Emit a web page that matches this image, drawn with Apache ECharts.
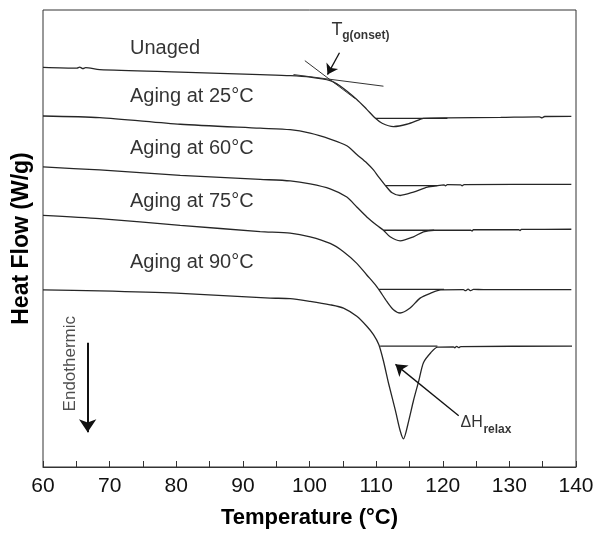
<!DOCTYPE html>
<html>
<head>
<meta charset="utf-8">
<script src="https://cdn.jsdelivr.net/npm/echarts@6/dist/echarts.min.js"></script>
<style>
  html, body { margin: 0; padding: 0; background: #fff; }
  #chart { width: 597px; height: 534px; }
</style>
</head>
<body>
<div id="chart"></div>
<script>
// DSC heat-flow traces: [temperature (°C), heat flow (arbitrary, offset per trace)]
const unaged = [
  [60.0, 40.23], [65.1, 40.15], [65.5, 40.25], [66.0, 40.1], [66.4, 40.2], [68.5, 40.0],
  [80.6, 39.75], [92.6, 39.5], [97.1, 39.4], [100.1, 39.25], [103.1, 38.9], [104.6, 38.35],
  [107.1, 37.0], [108.6, 36.0], [109.9, 35.1], [110.9, 34.6], [112.6, 34.27], [114.6, 34.5],
  [116.6, 35.0], [117.1, 35.1], [120.7, 35.15], [128.7, 35.2], [134.5, 35.25], [134.9, 35.15],
  [135.3, 35.28], [139.3, 35.3]
];
const aged25 = [
  [60.0, 35.33], [68.5, 35.17], [80.6, 34.5], [92.6, 34.1], [97.1, 33.95], [100.1, 33.6],
  [103.1, 33.0], [105.6, 32.33], [107.1, 31.45], [108.6, 30.6], [109.6, 29.9], [110.4, 29.17],
  [111.4, 28.33], [112.4, 27.6], [113.6, 27.33], [115.6, 27.67], [117.7, 28.17], [119.2, 28.33],
  [120.2, 28.4], [120.4, 28.3], [120.7, 28.42], [122.7, 28.4], [122.9, 28.3], [123.2, 28.42],
  [139.3, 28.45]
];
const aged60 = [
  [60.0, 30.2], [68.5, 29.9], [80.6, 29.35], [92.6, 28.95], [97.1, 28.8], [100.1, 28.5],
  [103.1, 28.0], [105.6, 27.17], [107.1, 26.17], [108.6, 25.17], [110.1, 24.33], [111.1, 23.83],
  [112.1, 23.17], [113.6, 22.77], [115.6, 23.17], [117.1, 23.67], [118.7, 23.83], [124.2, 23.85],
  [124.4, 23.75], [124.6, 23.88], [131.4, 23.9], [131.6, 23.8], [131.8, 23.92], [139.3, 23.93]
];
const aged75 = [
  [60.0, 25.33], [68.5, 25.0], [80.6, 24.33], [92.6, 23.7], [97.1, 23.55], [100.1, 23.17],
  [103.1, 22.5], [105.1, 21.67], [107.1, 20.5], [108.6, 19.33], [109.9, 18.33], [110.6, 17.67],
  [111.6, 16.67], [112.6, 15.83], [113.6, 15.5], [115.1, 16.0], [116.6, 17.0], [118.2, 17.5],
  [119.7, 17.83], [123.1, 17.85], [123.4, 17.75], [123.8, 17.9], [124.2, 17.75], [124.6, 17.88],
  [126.1, 17.85], [139.3, 17.85]
];
const aged90 = [
  [60.0, 17.83], [68.5, 17.73], [80.0, 17.5], [94.1, 17.0], [97.1, 16.95], [100.1, 16.67],
  [103.1, 16.33], [105.1, 16.0], [107.1, 15.17], [108.6, 14.17], [109.6, 13.33], [110.4, 12.33],
  [111.1, 10.67], [111.9, 8.33], [112.9, 5.67], [113.6, 3.67], [114.1, 2.83], [114.9, 4.67],
  [115.6, 6.67], [116.4, 8.67], [117.1, 10.5], [118.2, 11.5], [119.2, 12.07], [121.6, 12.1],
  [121.8, 12.0], [122.1, 12.15], [122.4, 12.02], [122.7, 12.12], [139.4, 12.17]
];

// Integration baselines under the relaxation peaks
const unagedBase = [[109.9, 35.1], [120.7, 35.1]];
const aged25Base = [[111.4, 28.33], [119.2, 28.33]];
const aged60Base = [[111.1, 23.83], [118.7, 23.83]];
const aged75Base = [[110.4, 17.88], [120.2, 17.88]];
const aged90Base = [[110.6, 12.17], [119.2, 12.17]];

// Onset construction: two tangents on the unaged trace
const tangentFlat = [[97.6, 39.5], [111.1, 38.33]];
const tangentSteep = [[99.3, 40.9], [106.8, 37.1]];

// Pointer arrows
const tgArrow = [[104.5, 41.7], [102.7, 39.5]];
const dhArrow = [[122.4, 5.17], [112.9, 10.33]];
const endoArrow = [[66.7, 12.5], [66.7, 3.5]];

// Trace labels
const traceNames = ['Unaged', 'Aging at 25°C', 'Aging at 60°C', 'Aging at 75°C', 'Aging at 90°C'];
const traceLabelPos = [[73.05, 42.1], [73.05, 37.25], [73.05, 32.1], [73.05, 26.75], [73.05, 20.6]];

const xTicks = { min: 60, max: 140, interval: 10 };

const FONT = '"Liberation Sans", Arial, sans-serif';
const INK = '#333';
const TRACE = '#262626';

const chart = echarts.init(document.getElementById('chart'), null, { renderer: 'canvas' });

function trace(data) {
  return {
    type: 'line', data, showSymbol: false, smooth: 0.25, silent: true,
    lineStyle: { color: TRACE, width: 1.3 }, z: 3
  };
}
function segment(data, color, width) {
  return {
    type: 'line', data, showSymbol: false, silent: true,
    lineStyle: { color, width }, z: 3
  };
}
function arrow(coords, width, size) {
  return {
    type: 'lines', coordinateSystem: 'cartesian2d', silent: true, z: 4,
    symbol: ['none', 'arrow'], symbolSize: size,
    lineStyle: { color: '#111', width, opacity: 1 },
    data: [{ coords }]
  };
}

const labelItems = traceNames.map((name, i) => ({
  value: traceLabelPos[i],
  label: { formatter: name, fontSize: 20, align: 'left', verticalAlign: 'middle', color: '#000' }
}));
labelItems.push(
  { value: [103.3, 44.0], label: { formatter: 'T', fontSize: 18, align: 'left', verticalAlign: 'middle', color: '#000' } },
  { value: [104.9, 43.4], label: { formatter: 'g(onset)', fontSize: 12, fontWeight: 'bold', align: 'left', verticalAlign: 'middle', color: '#000' } },
  { value: [122.66, 4.5], label: { formatter: 'ΔH', fontSize: 16, align: 'left', verticalAlign: 'middle', color: '#000' } },
  { value: [126.1, 3.8], label: { formatter: 'relax', fontSize: 12, fontWeight: 'bold', align: 'left', verticalAlign: 'middle', color: '#000' } },
  { value: [64.1, 10.4], label: { formatter: 'Endothermic', fontSize: 17, rotate: 90, align: 'center', verticalAlign: 'middle', color: '#222' } }
);

chart.setOption({
  animation: false,
  backgroundColor: '#fff',
  textStyle: { fontFamily: FONT },
  grid: {
    left: 43, right: 21, top: 10, bottom: 64,
    show: true, borderColor: INK, borderWidth: 1, backgroundColor: 'transparent'
  },
  xAxis: {
    type: 'value', min: xTicks.min, max: xTicks.max, interval: xTicks.interval,
    name: 'Temperature (°C)', nameLocation: 'middle', nameGap: 40,
    nameTextStyle: { fontSize: 22, fontWeight: 'bold', color: '#000', fontFamily: FONT },
    axisLine: { show: true, lineStyle: { color: INK, width: 1 } },
    axisTick: { show: true, inside: true, length: 6, lineStyle: { color: INK } },
    minorTick: { show: true, splitNumber: 2, length: 6, lineStyle: { color: INK } },
    axisLabel: { fontSize: 21, color: '#111', margin: 9, fontFamily: FONT },
    splitLine: { show: false }
  },
  yAxis: {
    type: 'value', min: 0, max: 46,
    name: 'Heat Flow (W/g)', nameLocation: 'middle', nameGap: 10,
    nameTextStyle: { fontSize: 23, fontWeight: 'bold', color: '#000', fontFamily: FONT },
    axisLine: { show: false }, axisTick: { show: false },
    axisLabel: { show: false }, splitLine: { show: false }
  },
  series: [
    trace(unaged), trace(aged25), trace(aged60), trace(aged75), trace(aged90),
    segment(unagedBase, TRACE, 1.3), segment(aged25Base, TRACE, 1.3),
    segment(aged60Base, TRACE, 1.3), segment(aged75Base, TRACE, 1.3),
    segment(aged90Base, TRACE, 1.3),
    segment(tangentFlat, '#333', 1), segment(tangentSteep, '#333', 1),
    arrow(tgArrow, 1.3, 10), arrow(dhArrow, 1.3, 11), arrow(endoArrow, 2, 13),
    {
      type: 'scatter', symbolSize: 0, silent: true, z: 5,
      label: { show: true, position: 'inside', fontFamily: FONT },
      data: labelItems
    }
  ]
});
</script>
</body>
</html>
